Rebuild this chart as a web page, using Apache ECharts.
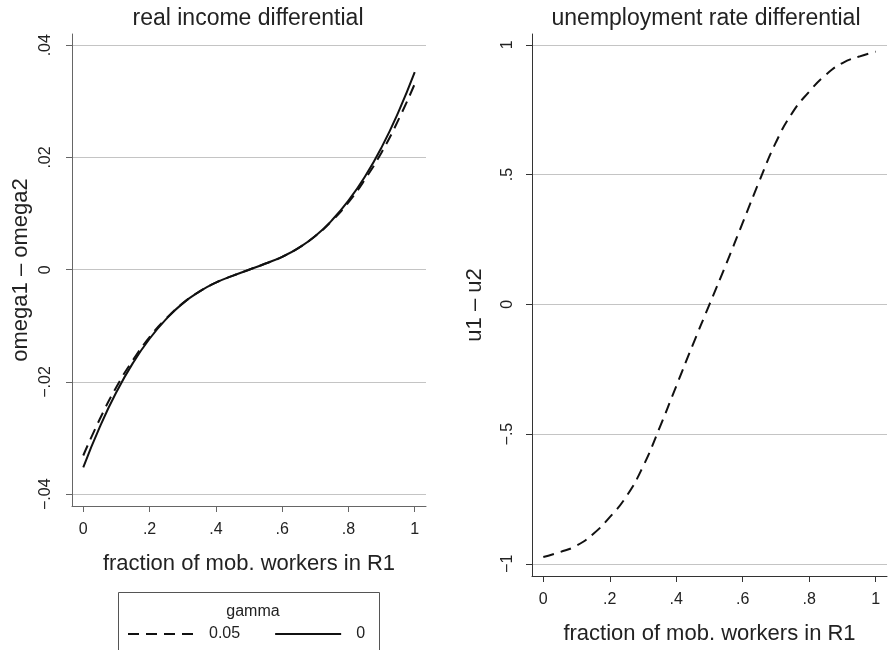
<!DOCTYPE html>
<html>
<head>
<meta charset="utf-8">
<script src="https://cdn.jsdelivr.net/npm/echarts@6/dist/echarts.min.js"></script>
<style>html,body{margin:0;padding:0;background:#fff;}#c{width:888px;height:650px;}</style>
</head>
<body>
<div id="c"></div>
<script>
// ---- data ----
const fractionX = [0,0.05,0.1,0.15,0.2,0.25,0.3,0.35,0.4,0.45,0.5,0.55,0.6,0.65,0.7,0.75,0.8,0.85,0.9,0.95,1];
const incomeGamma005 = [-0.0331,-0.0266,-0.0209,-0.0161,-0.0120,-0.0087,-0.0060,-0.0039,-0.0023,-0.0011,0,0.0011,0.0023,0.0039,0.0060,0.0087,0.0120,0.0161,0.0209,0.0266,0.0331];
const incomeGamma0   = [-0.0352,-0.0280,-0.0218,-0.0166,-0.0123,-0.0088,-0.0060,-0.0039,-0.0023,-0.0011,0,0.0011,0.0023,0.0039,0.0060,0.0088,0.0123,0.0166,0.0218,0.0280,0.0352];
const unempGamma005  = [-0.974,-0.955,-0.93,-0.885,-0.82,-0.74,-0.625,-0.475,-0.315,-0.155,0,0.155,0.315,0.475,0.625,0.74,0.82,0.885,0.93,0.955,0.974];

const xTickValues = [0,0.2,0.4,0.6,0.8,1];
const xTickLabels = ['0','.2','.4','.6','.8','1'];
const incomeTickValues = [-0.04,-0.02,0,0.02,0.04];
const incomeTickLabels = ['\u2212.04','\u2212.02','0','.02','.04'];
const unempTickValues = [-1,-0.5,0,0.5,1];
const unempTickLabels = ['\u22121','\u2212.5','0','.5','1'];

const seriesNames = ['0.05','0'];
const legendTitle = 'gamma';
const titles = ['real income differential','unemployment rate differential'];
const xName = 'fraction of mob. workers in R1';
const yNames = ['omega1 \u2013 omega2','u1 \u2013 u2'];

function pairs(xs, ys){ return xs.map((x,i)=>[x, ys[i]]); }
function labelFor(values, labels){ return v => { for (let i=0;i<values.length;i++){ if (Math.abs(values[i]-v)<1e-9) return labels[i]; } return ''; }; }

const FONT = 'Liberation Sans, Arial, Helvetica, sans-serif';

function xAxisCfg(gridIndex, color){
  return {
    type:'value', gridIndex, min:-0.034, max:1.034,
    name: xName, nameLocation:'middle', nameGap:47,
    nameTextStyle:{fontFamily:FONT, fontSize:22, color:'#222'},
    axisLine:{show:true, onZero:false, lineStyle:{color, width:1}},
    axisTick:{show:true, length:6, customValues:xTickValues, lineStyle:{color, width:1}},
    axisLabel:{customValues:xTickValues, formatter:labelFor(xTickValues,xTickLabels), fontFamily:FONT, fontSize:16, color:'#222', margin:16},
    splitLine:{show:false}
  };
}
function yAxisCfg(gridIndex, min, max, vals, labs, name, nameGap, margin, color){
  return {
    type:'value', gridIndex, min, max,
    name, nameLocation:'middle', nameGap, nameRotate:90,
    nameTextStyle:{fontFamily:FONT, fontSize:22, color:'#222'},
    axisLine:{show:true, onZero:false, lineStyle:{color, width:1}},
    axisTick:{show:true, length:6, customValues:vals, lineStyle:{color, width:1}},
    axisLabel:{customValues:vals, formatter:labelFor(vals,labs), rotate:90, fontFamily:FONT, fontSize:16, color:'#222', margin},
    splitLine:{show:true, lineStyle:{color:'#c4c4c4', width:1}}
  };
}

const chart = echarts.init(document.getElementById('c'), null, {renderer:'canvas'});
chart.setOption({
  animation:false,
  backgroundColor:'#fff',
  title:[
    {text:titles[0], left:243, top:2, textAlign:'center', textStyle:{fontFamily:FONT, fontSize:23, fontWeight:'normal', color:'#222'}},
    {text:titles[1], left:701, top:2, textAlign:'center', textStyle:{fontFamily:FONT, fontSize:23, fontWeight:'normal', color:'#222'}},
    {text:legendTitle, left:248, top:599, textAlign:'center', textStyle:{fontFamily:FONT, fontSize:16, fontWeight:'normal', color:'#222'}}
  ],
  graphic:[
    {type:'rect', z:-1, shape:{x:118.5, y:592.5, width:261, height:80}, style:{fill:'#fff', stroke:'#555', lineWidth:1}}
  ],
  legend:{
    data:seriesNames, left:127, top:626, itemWidth:66, itemHeight:16, itemGap:34,
    itemStyle:{opacity:0},
    textStyle:{fontFamily:FONT, fontSize:16, color:'#222', padding:[0,0,0,10]},
    backgroundColor:'transparent', borderWidth:0, padding:0
  },
  grid:[
    {left:72, right:462, top:34, bottom:144, containLabel:false},
    {left:532, right:1, top:34, bottom:74, containLabel:false}
  ],
  xAxis:[ xAxisCfg(0,'#666'), xAxisCfg(1,'#333') ],
  yAxis:[
    yAxisCfg(0,-0.0421,0.042,incomeTickValues,incomeTickLabels,yNames[0],40,18,'#666'),
    yAxisCfg(1,-1.047,1.042,unempTickValues,unempTickLabels,yNames[1],46,16,'#333')
  ],
  series:[
    {name:seriesNames[0], type:'line', xAxisIndex:0, yAxisIndex:0, data:pairs(fractionX,incomeGamma005), smooth:true, symbol:'none',
      lineStyle:{color:'#111', width:2, type:[11,7]}, itemStyle:{color:'#111'}},
    {name:seriesNames[1], type:'line', xAxisIndex:0, yAxisIndex:0, data:pairs(fractionX,incomeGamma0), smooth:true, symbol:'none',
      lineStyle:{color:'#111', width:2, type:'solid'}, itemStyle:{color:'#111'}},
    {name:'unemployment', type:'line', xAxisIndex:1, yAxisIndex:1, data:pairs(fractionX,unempGamma005), smooth:true, symbol:'none',
      lineStyle:{color:'#111', width:2, type:[11,7]}, itemStyle:{color:'#111'}}
  ]
});
</script>
</body>
</html>
